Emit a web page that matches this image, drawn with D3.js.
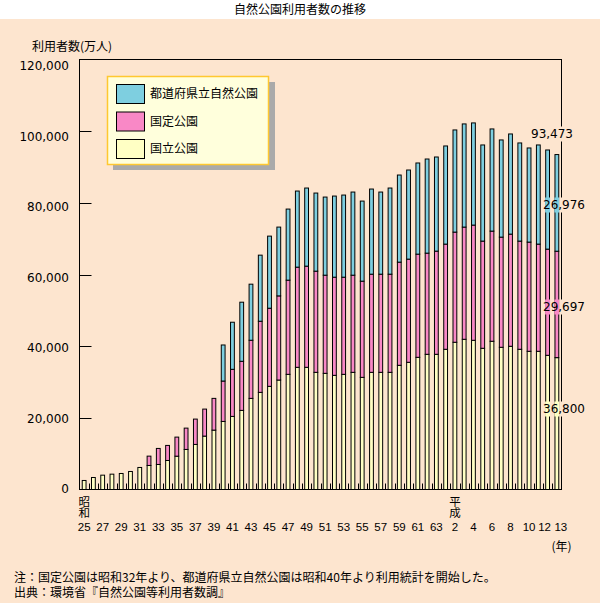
<!DOCTYPE html>
<html><head><meta charset="utf-8">
<script src="https://cdn.jsdelivr.net/npm/d3@7"></script>
<style>
html,body{margin:0;padding:0;background:#fde5cf;}
svg{display:block;}
</style></head>
<body>
<script>
// ---- data ----
const years = ["昭和25","昭和26","昭和27","昭和28","昭和29","昭和30","昭和31","昭和32","昭和33","昭和34",
 "昭和35","昭和36","昭和37","昭和38","昭和39","昭和40","昭和41","昭和42","昭和43","昭和44",
 "昭和45","昭和46","昭和47","昭和48","昭和49","昭和50","昭和51","昭和52","昭和53","昭和54",
 "昭和55","昭和56","昭和57","昭和58","昭和59","昭和60","昭和61","昭和62","昭和63",
 "平成元","平成2","平成3","平成4","平成5","平成6","平成7","平成8","平成9","平成10","平成11","平成12","平成13"];
const tickLabels = ["25","","27","","29","","31","","33","","35","","37","","39","","41","","43","","45","","47","","49","","51","","53","","55","","57","","59","","61","","63",
 "","2","","4","","6","","8","","10","","12","13"];
const eraLabels = [{i:0,t:"昭和"},{i:40,t:"平成"}];
const national = [2520,3350,4000,4280,4470,5030,6150,6710,6990,8100,9300,11180,12580,14900,16570,19000,20400,22080,25430,27110,28790,30550,32140,34100,34100,32700,32420,31860,32140,32700,31300,32700,32700,32700,34660,35500,36890,37730,37730,39130,41090,41920,41640,39410,41370,39690,39970,39130,38570,38570,37450,36800];
const quasi = [0,0,0,0,0,0,0,2600,4470,4200,5320,5950,7070,7540,8860,11270,13140,13700,16220,19850,21800,23480,26280,27950,28230,28230,27390,27390,27110,27110,26840,27390,27390,27390,28790,28790,28790,28230,28790,29350,30740,31310,32150,29910,30740,30740,31300,30190,30470,29910,29630,29697];
const prefectural = [0,0,0,0,0,0,0,0,0,0,0,0,0,0,0,10060,13140,16490,15650,18440,20120,19200,19840,21240,21800,21800,21800,22640,22920,23200,22350,23760,22920,24040,24310,24870,25440,26270,26270,27390,28510,28790,28510,26830,28510,27120,27950,27390,26270,27670,27670,26976];
const seriesNames = ["国立公園","国定公園","都道府県立自然公園"];
const seriesColors = ["#ffffc4","#f988c6","#7ecfe0"];
const yTicks = [0,20000,40000,60000,80000,100000,120000];

const W=600,H=603;
const svg=d3.select("body").append("svg").attr("width",W).attr("height",H);
const FJ="'Noto Sans CJK JP', sans-serif";
const FN="'DejaVu Sans', sans-serif";

// white title band
svg.append("rect").attr("x",0).attr("y",0).attr("width",W).attr("height",19).attr("fill","#ffffff");
svg.append("text").attr("x",300).attr("y",14).attr("text-anchor","middle")
  .attr("font-family",FJ).attr("font-size",12).text("自然公園利用者数の推移");

const L=79.5,R=561.5,T=59.5,B=489.5;
const x=d3.scaleBand().domain(d3.range(years.length)).range([L,R]).paddingInner(0).paddingOuter(0);
const y=d3.scaleLinear().domain([0,120000]).range([B,T]);
const yLab=d3.scaleLinear().domain([0,120000]).range([489,66]);

// y title
svg.append("text").attr("x",32).attr("y",51).attr("font-family",FJ).attr("font-size",12).text("利用者数(万人)");

// stack
const rows=years.map((c,i)=>({i,national:national[i],quasi:quasi[i],prefectural:prefectural[i]}));
const keys=["national","quasi","prefectural"];
const stack=d3.stack().keys(keys)(rows);
const bw=3.8;
const g=svg.append("g");
stack.forEach((s,k)=>{
  g.selectAll(null).data(s.filter(d=>d[1]-d[0]>0)).enter().append("rect")
    .attr("x",d=>x(d.data.i)+(x.bandwidth()-bw)/2)
    .attr("y",d=>y(d[1]))
    .attr("width",bw)
    .attr("height",d=>y(d[0])-y(d[1]))
    .attr("fill",seriesColors[k]).attr("stroke","#000").attr("stroke-width",1);
});

// frame
svg.append("rect").attr("x",L).attr("y",T).attr("width",R-L).attr("height",B-T)
  .attr("fill","none").attr("stroke","#000").attr("stroke-width",1);

// y ticks (inner)
yTicks.filter(v=>v>0&&v<120000).forEach(v=>{
  svg.append("line").attr("x1",L).attr("x2",L+12).attr("y1",Math.round(y(v))+0.5).attr("y2",Math.round(y(v))+0.5)
    .attr("stroke","#000").attr("stroke-width",1);
});
svg.append("g").selectAll("text").data(yTicks).enter().append("text")
  .attr("x",69).attr("y",d=>yLab(d)).attr("dy","0.36em").attr("text-anchor","end")
  .attr("font-family",FN).attr("font-size",12).text(d=>d3.format(",")(d));

// small x ticks at band boundaries
d3.range(1,years.length).forEach(i=>{
  const xx=Math.round(x(i))+0.5;
  svg.append("line").attr("x1",xx).attr("x2",xx).attr("y1",B-6).attr("y2",B).attr("stroke","#000").attr("stroke-width",1);
});

// x labels
const shift={50:-3,51:4};
svg.append("g").selectAll("text").data(tickLabels.map((t,i)=>({t,i})).filter(d=>d.t!=="")).enter().append("text")
  .attr("x",d=>x(d.i)+x.bandwidth()/2+(shift[d.i]||0)).attr("y",531).attr("text-anchor","middle")
  .attr("font-family","'Liberation Sans', sans-serif").attr("font-size",11.5).text(d=>d.t);
svg.append("g").selectAll("text").data(eraLabels).enter().append("text")
  .attr("x",d=>x(d.i)+x.bandwidth()/2).attr("y",495.5)
  .style("writing-mode","vertical-rl").attr("text-anchor","start")
  .attr("font-family",FJ).attr("font-size",11.5).text(d=>d.t);
svg.append("text").attr("x",R).attr("y",550.5).attr("text-anchor","middle")
  .attr("font-family",FJ).attr("font-size",12).text("(年)");

// end labels
const last=years.length-1;
const total=national[last]+quasi[last]+prefectural[last];
const endLabels=[
  {v:total,x0:531,yc:134,k:-1},
  {v:prefectural[last],x0:543,yc:205,k:2},
  {v:quasi[last],x0:543,yc:307,k:1},
  {v:national[last],x0:543,yc:409,k:0}
];
endLabels.forEach(lb=>{
  if(lb.k>=0){
    [last-1,last].forEach(i=>{
      svg.append("rect").attr("x",x(i)+(x.bandwidth()-bw)/2-0.6).attr("y",lb.yc-7.5)
        .attr("width",bw+1.2).attr("height",15).attr("fill",seriesColors[lb.k]);
    });
  }
  svg.append("rect").attr("x",lb.k>=0?559.5:555).attr("y",lb.yc-7.5).attr("width",lb.k>=0?28:20).attr("height",15).attr("fill","#fde5cf");
  svg.append("text").attr("x",lb.x0).attr("y",lb.yc).attr("dy","0.36em")
    .attr("font-family",FN).attr("font-size",12).text(d3.format(",")(lb.v));
});

// legend
const lg=svg.append("g");
lg.append("rect").attr("x",113).attr("y",82).attr("width",162).attr("height",88).attr("fill","#aaaaaa");
lg.append("rect").attr("x",107.5).attr("y",76.5).attr("width",161).attr("height",88)
  .attr("fill","#ffffdc").attr("stroke","#ffc830").attr("stroke-width",1.5);
const legOrder=[2,1,0];
legOrder.forEach((k,j)=>{
  const yy=84.5+j*27.5;
  lg.append("rect").attr("x",116.5).attr("y",yy).attr("width",28).attr("height",19)
    .attr("fill",seriesColors[k]).attr("stroke","#000").attr("stroke-width",1);
  lg.append("text").attr("x",150).attr("y",yy+9.5).attr("dy","0.36em")
    .attr("font-family",FJ).attr("font-size",12).text(seriesNames[k]);
});

// footnotes
svg.append("text").attr("x",14).attr("y",581.5).attr("font-family",FJ).attr("font-size",12)
  .text("注：国定公園は昭和32年より、都道府県立自然公園は昭和40年より利用統計を開始した。");
svg.append("text").attr("x",14).attr("y",597).attr("font-family",FJ).attr("font-size",12)
  .text("出典：環境省『自然公園等利用者数調』");
</script>
</body></html>
